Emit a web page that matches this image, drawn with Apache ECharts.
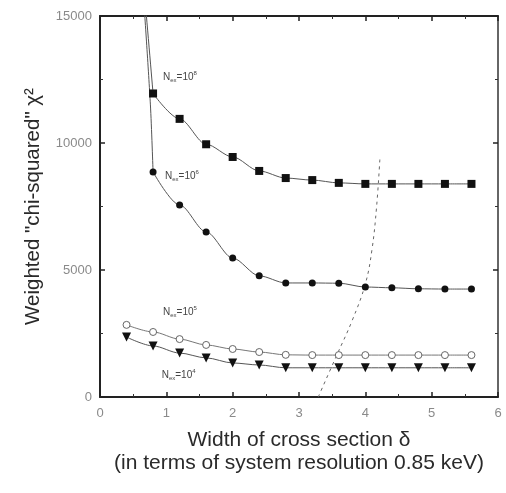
<!DOCTYPE html>
<html>
<head>
<meta charset="utf-8">
<script src="https://cdn.jsdelivr.net/npm/echarts@6/dist/echarts.min.js"></script>
<style>
  html, body { margin: 0; padding: 0; background: #fff; }
  #chart { width: 506px; height: 493px; }
</style>
</head>
<body>
<div id="chart"></div>
<script>
// Width of cross section δ (units of system resolution)
const widths = [0.4, 0.8, 1.2, 1.6, 2.0, 2.4, 2.8, 3.2, 3.6, 4.0, 4.4, 4.8, 5.2, 5.6];

// Weighted chi-squared for each number of events (null = not computed)
const chiN8 = [null, 11950, 10950, 9950, 9450, 8900, 8620, 8540, 8430, 8390, 8390, 8390, 8390, 8390];
const chiN6 = [null, 8860, 7560, 6500, 5470, 4770, 4490, 4490, 4480, 4330, 4300, 4260, 4250, 4250];
const chiN5 = [2840, 2560, 2280, 2050, 1890, 1770, 1660, 1650, 1650, 1650, 1650, 1650, 1650, 1650];
const chiN4 = [2360, 2010, 1730, 1540, 1340, 1260, 1150, 1150, 1150, 1150, 1150, 1150, 1150, 1150];

// Steep rise of the two upper curves below δ = 0.8 (runs off the top of the axis)
const riseN8 = [[0.68, 15600], [0.8, 11950]];
const riseN6 = [[0.66, 15600], [0.76, 11500], [0.8, 8860]];

// Boundary curve (dashed)
const boundaryX = [3.29, 3.57, 3.8, 4.0, 4.1, 4.17, 4.22];
const boundaryY = [0, 1650, 3000, 4450, 5800, 7500, 9400];

// Curve labels: exponent of N_ex and anchor in data units
const labelExp = ['8', '6', '5', '4'];
const labelAnchorX = [0.95, 0.98, 0.95, 0.93];
const labelAnchorY = [12600, 8700, 3350, 860];

// Axis ticks
const xTicks = [0, 1, 2, 3, 4, 5, 6];
const yTicks = [0, 5000, 10000, 15000];

function pairs(xs, ys) {
  const out = [];
  xs.forEach((x, i) => { if (ys[i] != null) out.push([x, ys[i]]); });
  return out;
}

const chart = echarts.init(document.getElementById('chart'));
const lineCol = '#555';
const tickFont = { color: '#8a8a8a', fontSize: 13, fontFamily: 'Liberation Sans Narrow, Liberation Sans, Arial, sans-serif' };

function axisBase(extra) {
  return Object.assign({
    axisLine: { show: true, onZero: false, lineStyle: { color: '#222', width: 2 } },
    axisTick: { show: true, inside: true, length: 5, lineStyle: { color: '#222', width: 1.5 } },
    minorTick: { show: true, splitNumber: 2, length: 3, lineStyle: { color: '#333', width: 1 } },
    splitLine: { show: false },
    minorSplitLine: { show: false }
  }, extra);
}

const option = {
  backgroundColor: '#fff',
  animation: false,
  grid: { left: 100, top: 16, right: 8, bottom: 96, containLabel: false, outerBoundsMode: 'none' },
  xAxis: [
    axisBase({
      type: 'value', min: xTicks[0], max: xTicks[xTicks.length - 1], interval: 1, position: 'bottom',
      axisLabel: Object.assign({ margin: 10, formatter: v => String(v) }, tickFont),
      name: 'Width of cross section δ\n(in terms of system resolution 0.85 keV)',
      nameLocation: 'middle', nameGap: 32,
      nameTextStyle: { color: '#2a2a2a', fontSize: 21, lineHeight: 23, fontFamily: 'Liberation Sans, Arial, sans-serif' }
    }),
    axisBase({
      type: 'value', min: xTicks[0], max: xTicks[xTicks.length - 1], interval: 1, position: 'top',
      axisLabel: { show: false }
    })
  ],
  yAxis: [
    axisBase({
      type: 'value', min: yTicks[0], max: yTicks[yTicks.length - 1], interval: 5000, position: 'left',
      axisLabel: Object.assign({ margin: 8, formatter: v => String(v) }, tickFont),
      name: 'Weighted "chi-squared" χ²',
      nameLocation: 'middle', nameGap: 56, nameRotate: 90,
      nameTextStyle: { color: '#2a2a2a', fontSize: 20.5, fontFamily: 'Liberation Sans, Arial, sans-serif' }
    }),
    axisBase({
      type: 'value', min: yTicks[0], max: yTicks[yTicks.length - 1], interval: 5000, position: 'right',
      axisLabel: { show: false },
      axisLine: { show: true, onZero: false, lineStyle: { color: '#333', width: 1.5 } }
    })
  ],
  series: [
    {
      type: 'line', data: riseN8, symbol: 'none', smooth: 0.3, clip: true,
      lineStyle: { color: lineCol, width: 1 }, z: 2
    },
    {
      type: 'line', data: riseN6, symbol: 'none', smooth: 0.3, clip: true,
      lineStyle: { color: lineCol, width: 1 }, z: 2
    },
    {
      name: 'N8', type: 'line', data: pairs(widths, chiN8), symbol: 'rect', symbolSize: 8,
      smooth: 0.3, smoothMonotone: 'x',
      itemStyle: { color: '#111' }, lineStyle: { color: lineCol, width: 1 }, z: 3
    },
    {
      name: 'N6', type: 'line', data: pairs(widths, chiN6), symbol: 'circle', symbolSize: 7,
      smooth: 0.3, smoothMonotone: 'x',
      itemStyle: { color: '#111' }, lineStyle: { color: lineCol, width: 1 }, z: 3
    },
    {
      name: 'N5', type: 'line', data: pairs(widths, chiN5), symbol: 'circle', symbolSize: 7,
      smooth: 0.3, smoothMonotone: 'x',
      itemStyle: { color: '#fff', borderColor: '#666', borderWidth: 1 }, lineStyle: { color: '#777', width: 1 }, z: 3
    },
    {
      name: 'N4', type: 'line', data: pairs(widths, chiN4), symbol: 'triangle', symbolRotate: 180, symbolSize: 9,
      smooth: 0.3, smoothMonotone: 'x',
      itemStyle: { color: '#111' }, lineStyle: { color: lineCol, width: 1 }, z: 3
    },
    {
      name: 'boundary', type: 'line', data: pairs(boundaryX, boundaryY), symbol: 'none', smooth: 0.4,
      lineStyle: { color: '#666', width: 1, type: [3, 4] }, z: 2
    }
  ]
};

chart.setOption(option);

// Curve labels "N_ex = 10^k", anchored in data coordinates
const graphics = labelExp.map((e, i) => {
  const p = chart.convertToPixel({ xAxisIndex: 0, yAxisIndex: 0 }, [labelAnchorX[i], labelAnchorY[i]]);
  return {
    type: 'text', x: p[0], y: p[1], z: 10,
    style: {
      text: '{n|N}{s|ex}{n|=10}{p|' + e + '}',
      verticalAlign: 'middle',
      rich: {
        n: { fontSize: 10, fill: '#444', fontFamily: 'Liberation Sans Narrow, Arial, sans-serif' },
        s: { fontSize: 6, fill: '#444', padding: [7, 0, 0, 0], fontFamily: 'Arial, sans-serif' },
        p: { fontSize: 6, fill: '#444', padding: [0, 0, 7, 0], fontFamily: 'Arial, sans-serif' }
      }
    }
  };
});
chart.setOption({ graphic: graphics });
</script>
</body>
</html>
